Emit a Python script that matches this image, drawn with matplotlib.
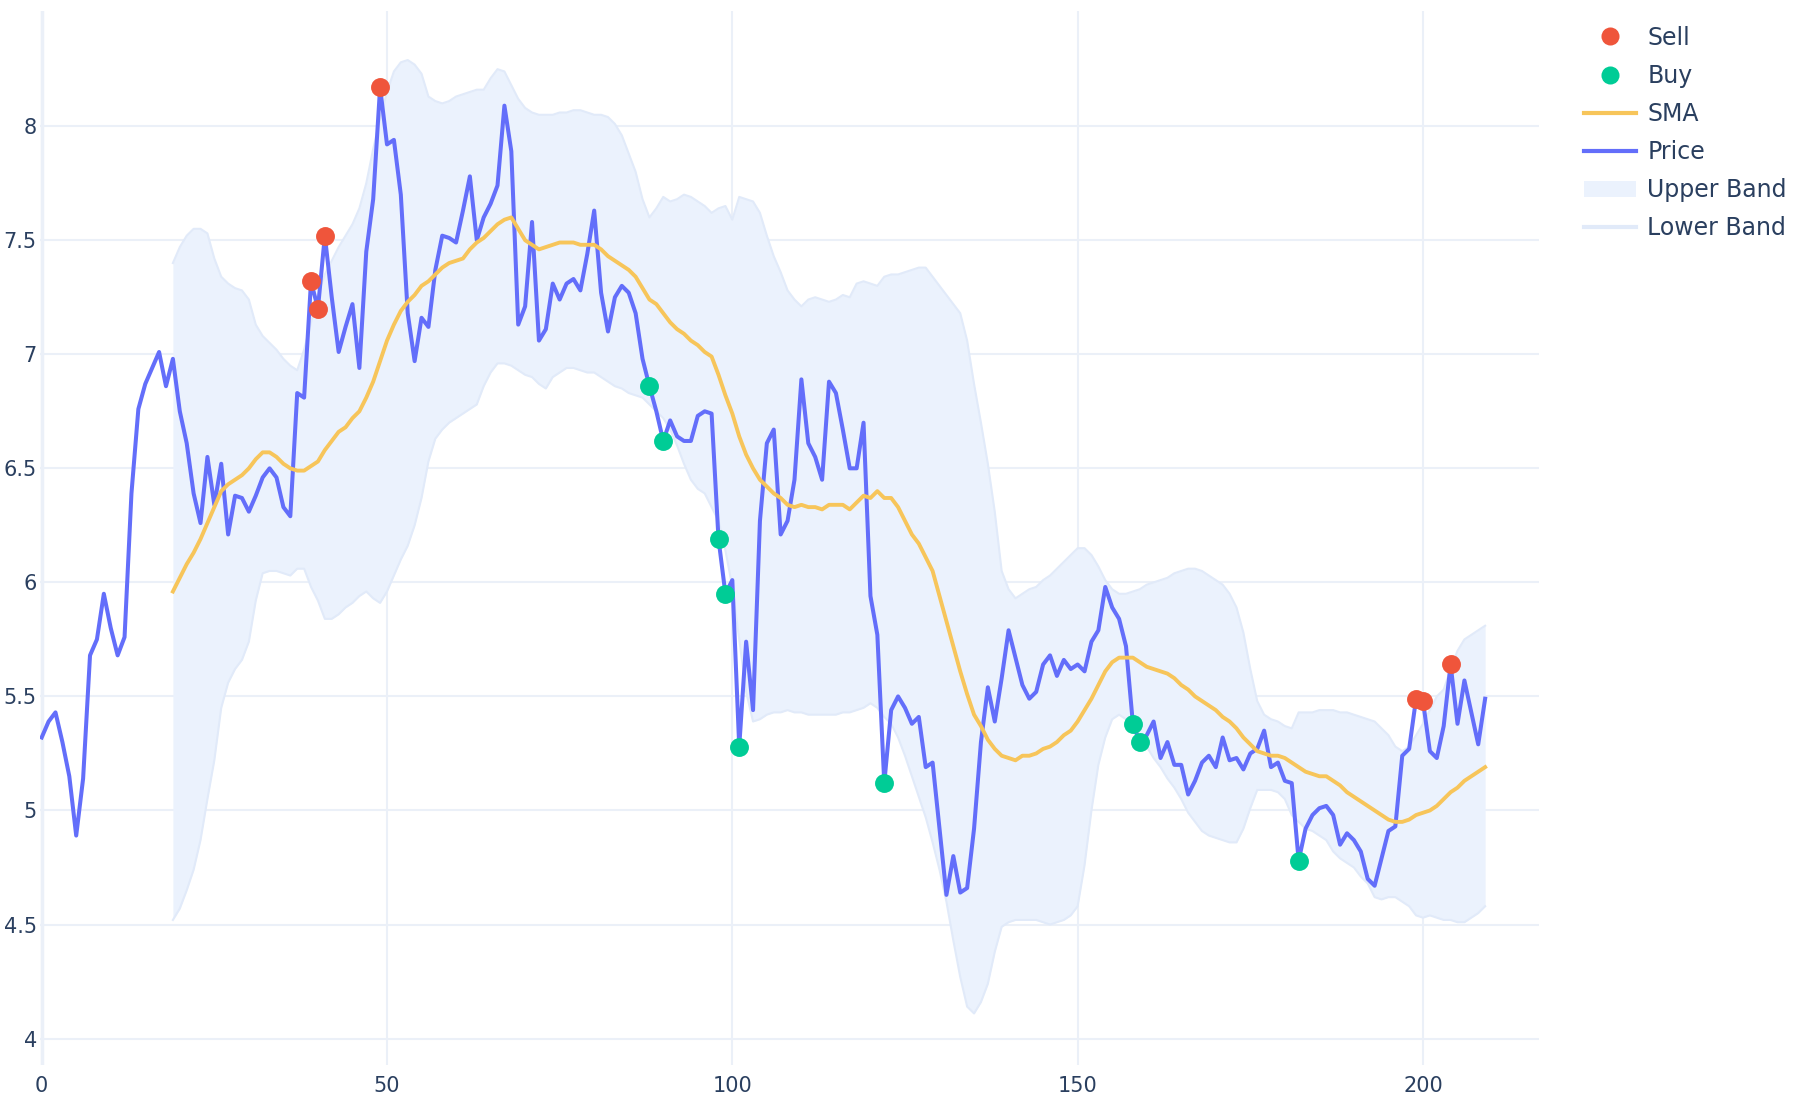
import matplotlib
matplotlib.use("Agg")
import matplotlib.pyplot as plt
from matplotlib.lines import Line2D
from matplotlib.patches import Patch
import numpy as np

# price series, one value per step (0..209)
price = [
    5.32, 5.39, 5.43, 5.30, 5.15, 4.89, 5.14, 5.68, 5.75, 5.95,
    5.80, 5.68, 5.76, 6.39, 6.76, 6.87, 6.94, 7.01, 6.86, 6.98,
    6.75, 6.61, 6.39, 6.26, 6.55, 6.34, 6.52, 6.21, 6.38, 6.37,
    6.31, 6.38, 6.46, 6.50, 6.46, 6.33, 6.29, 6.83, 6.81, 7.32,
    7.20, 7.52, 7.25, 7.01, 7.12, 7.22, 6.94, 7.45, 7.68, 8.17,
    7.92, 7.94, 7.70, 7.18, 6.97, 7.16, 7.12, 7.37, 7.52, 7.51,
    7.49, 7.63, 7.78, 7.50, 7.60, 7.66, 7.74, 8.09, 7.89, 7.13,
    7.21, 7.58, 7.06, 7.11, 7.31, 7.24, 7.31, 7.33, 7.28, 7.44,
    7.63, 7.27, 7.10, 7.25, 7.30, 7.27, 7.18, 6.98, 6.86, 6.75,
    6.62, 6.71, 6.64, 6.62, 6.62, 6.73, 6.75, 6.74, 6.19, 5.95,
    6.01, 5.28, 5.74, 5.44, 6.27, 6.61, 6.67, 6.21, 6.27, 6.45,
    6.89, 6.61, 6.55, 6.45, 6.88, 6.83, 6.67, 6.50, 6.50, 6.70,
    5.94, 5.77, 5.12, 5.44, 5.50, 5.45, 5.38, 5.41, 5.19, 5.21,
    4.92, 4.63, 4.80, 4.64, 4.66, 4.92, 5.30, 5.54, 5.39, 5.58,
    5.79, 5.67, 5.55, 5.49, 5.52, 5.64, 5.68, 5.59, 5.66, 5.62,
    5.64, 5.61, 5.74, 5.79, 5.98, 5.89, 5.84, 5.72, 5.38, 5.30,
    5.33, 5.39, 5.23, 5.30, 5.20, 5.20, 5.07, 5.13, 5.21, 5.24,
    5.19, 5.32, 5.22, 5.23, 5.18, 5.25, 5.27, 5.35, 5.19, 5.21,
    5.13, 5.12, 4.78, 4.92, 4.98, 5.01, 5.02, 4.98, 4.85, 4.90,
    4.87, 4.82, 4.70, 4.67, 4.79, 4.91, 4.93, 5.24, 5.27, 5.49,
    5.48, 5.26, 5.23, 5.37, 5.64, 5.38, 5.57, 5.43, 5.29, 5.49,
]

# moving average and bands start at step 19
band_start = 19
sma = [
    5.96, 6.02, 6.08, 6.13, 6.19, 6.26, 6.33, 6.40, 6.43, 6.45,
    6.47, 6.50, 6.54, 6.57, 6.57, 6.55, 6.52, 6.50, 6.49, 6.49,
    6.51, 6.53, 6.58, 6.62, 6.66, 6.68, 6.72, 6.75, 6.81, 6.88,
    6.97, 7.06, 7.13, 7.19, 7.23, 7.26, 7.30, 7.32, 7.35, 7.38,
    7.40, 7.41, 7.42, 7.46, 7.49, 7.51, 7.54, 7.57, 7.59, 7.60,
    7.55, 7.50, 7.48, 7.46, 7.47, 7.48, 7.49, 7.49, 7.49, 7.48,
    7.48, 7.48, 7.46, 7.43, 7.41, 7.39, 7.37, 7.34, 7.29, 7.24,
    7.22, 7.18, 7.14, 7.11, 7.09, 7.06, 7.04, 7.01, 6.99, 6.91,
    6.82, 6.74, 6.64, 6.56, 6.50, 6.45, 6.42, 6.39, 6.37, 6.34,
    6.33, 6.34, 6.33, 6.33, 6.32, 6.34, 6.34, 6.34, 6.32, 6.35,
    6.38, 6.37, 6.40, 6.37, 6.37, 6.33, 6.27, 6.21, 6.17, 6.11,
    6.05, 5.94, 5.83, 5.72, 5.61, 5.51, 5.42, 5.37, 5.31, 5.27,
    5.24, 5.23, 5.22, 5.24, 5.24, 5.25, 5.27, 5.28, 5.30, 5.33,
    5.35, 5.39, 5.44, 5.49, 5.55, 5.61, 5.65, 5.67, 5.67, 5.67,
    5.65, 5.63, 5.62, 5.61, 5.60, 5.58, 5.55, 5.53, 5.50, 5.48,
    5.46, 5.44, 5.41, 5.39, 5.36, 5.32, 5.29, 5.26, 5.25, 5.24,
    5.24, 5.23, 5.21, 5.19, 5.17, 5.16, 5.15, 5.15, 5.13, 5.11,
    5.08, 5.06, 5.04, 5.02, 5.00, 4.98, 4.96, 4.95, 4.95, 4.96,
    4.98, 4.99, 5.00, 5.02, 5.05, 5.08, 5.10, 5.13, 5.15, 5.17,
    5.19,
]
upper = [
    7.40, 7.47, 7.52, 7.55, 7.55, 7.53, 7.42, 7.34, 7.31, 7.29,
    7.28, 7.24, 7.13, 7.08, 7.05, 7.02, 6.98, 6.95, 6.93, 7.02,
    7.14, 7.26, 7.35, 7.41, 7.47, 7.52, 7.57, 7.64, 7.75, 7.90,
    8.03, 8.15, 8.24, 8.28, 8.29, 8.27, 8.23, 8.13, 8.11, 8.10,
    8.11, 8.13, 8.14, 8.15, 8.16, 8.16, 8.21, 8.25, 8.24, 8.18,
    8.12, 8.08, 8.06, 8.05, 8.05, 8.05, 8.06, 8.06, 8.07, 8.07,
    8.06, 8.05, 8.05, 8.04, 8.01, 7.96, 7.88, 7.80, 7.68, 7.60,
    7.64, 7.69, 7.67, 7.68, 7.70, 7.69, 7.67, 7.65, 7.62, 7.64,
    7.65, 7.59, 7.69, 7.68, 7.67, 7.62, 7.52, 7.43, 7.36, 7.28,
    7.24, 7.21, 7.24, 7.25, 7.24, 7.23, 7.24, 7.26, 7.25, 7.31,
    7.32, 7.31, 7.30, 7.34, 7.35, 7.35, 7.36, 7.37, 7.38, 7.38,
    7.34, 7.30, 7.26, 7.22, 7.18, 7.06, 6.87, 6.70, 6.52, 6.31,
    6.05, 5.97, 5.93, 5.95, 5.97, 5.98, 6.01, 6.03, 6.06, 6.09,
    6.12, 6.15, 6.15, 6.12, 6.07, 6.01, 5.97, 5.95, 5.95, 5.96,
    5.97, 5.99, 6.00, 6.01, 6.02, 6.04, 6.05, 6.06, 6.06, 6.05,
    6.03, 6.01, 5.99, 5.95, 5.89, 5.78, 5.62, 5.48, 5.42, 5.40,
    5.39, 5.37, 5.36, 5.43, 5.43, 5.43, 5.44, 5.44, 5.44, 5.43,
    5.43, 5.42, 5.41, 5.40, 5.39, 5.36, 5.33, 5.28, 5.26, 5.28,
    5.33, 5.38, 5.44, 5.50, 5.53, 5.62, 5.70, 5.75, 5.77, 5.79,
    5.81,
]
lower = [
    4.52, 4.57, 4.65, 4.74, 4.87, 5.05, 5.22, 5.45, 5.56, 5.62,
    5.66, 5.74, 5.92, 6.04, 6.05, 6.05, 6.04, 6.03, 6.06, 6.06,
    5.98, 5.92, 5.84, 5.84, 5.86, 5.89, 5.91, 5.94, 5.96, 5.93,
    5.91, 5.96, 6.03, 6.10, 6.16, 6.25, 6.37, 6.53, 6.63, 6.67,
    6.70, 6.72, 6.74, 6.76, 6.78, 6.86, 6.92, 6.96, 6.96, 6.95,
    6.93, 6.91, 6.90, 6.87, 6.85, 6.90, 6.92, 6.94, 6.94, 6.93,
    6.92, 6.92, 6.90, 6.88, 6.86, 6.85, 6.83, 6.82, 6.81, 6.78,
    6.75, 6.72, 6.67, 6.60, 6.52, 6.45, 6.41, 6.39, 6.33, 6.27,
    6.14, 5.98, 5.75, 5.52, 5.39, 5.40, 5.42, 5.43, 5.43, 5.44,
    5.43, 5.43, 5.42, 5.42, 5.42, 5.42, 5.42, 5.43, 5.43, 5.44,
    5.45, 5.47, 5.45, 5.41, 5.38, 5.32, 5.24, 5.15, 5.06, 4.97,
    4.86, 4.74, 4.60, 4.43, 4.27, 4.14, 4.11, 4.16, 4.24, 4.38,
    4.49, 4.51, 4.52, 4.52, 4.52, 4.52, 4.51, 4.50, 4.51, 4.52,
    4.54, 4.58, 4.76, 5.00, 5.20, 5.32, 5.40, 5.42, 5.40, 5.35,
    5.31, 5.28, 5.23, 5.19, 5.14, 5.10, 5.05, 4.99, 4.95, 4.91,
    4.89, 4.88, 4.87, 4.86, 4.86, 4.92, 5.01, 5.09, 5.09, 5.09,
    5.08, 5.05, 4.98, 4.95, 4.92, 4.91, 4.89, 4.87, 4.82, 4.79,
    4.77, 4.75, 4.71, 4.68, 4.62, 4.61, 4.62, 4.62, 4.60, 4.58,
    4.54, 4.53, 4.54, 4.53, 4.52, 4.52, 4.51, 4.51, 4.53, 4.55,
    4.58,
]

sell_idx = [39, 40, 41, 49, 199, 200, 204]
buy_idx = [88, 90, 98, 99, 101, 122, 158, 159, 182]

yticks = [4, 4.5, 5, 5.5, 6, 6.5, 7, 7.5, 8]
xticks = [0, 50, 100, 150, 200]

c_price = "#636EFA"
c_sma = "#F7C55A"
c_sell = "#EF553B"
c_buy = "#00CC96"
c_band = "#EBF2FD"
c_band_line = "#E1EAF9"
c_grid = "#EBF0F8"
c_text = "#2A3F5F"

price = np.array(price)
x = np.arange(len(price))
xb = np.arange(band_start, band_start + len(sma))

fig = plt.figure(figsize=(18, 11), dpi=100)
ax = fig.add_axes([0.022, 0.032, 0.833, 0.958])

ax.fill_between(xb, lower, upper, color=c_band, lw=0, zorder=1)
ax.plot(xb, upper, color=c_band_line, lw=1.5, zorder=2)
ax.plot(xb, lower, color=c_band_line, lw=1.5, zorder=2)
ax.plot(x, price, color=c_price, lw=2.9, zorder=3)
ax.plot(xb, sma, color=c_sma, lw=2.8, zorder=4)
ax.scatter(sell_idx, price[sell_idx], s=185, color=c_sell, lw=0, zorder=5)
ax.scatter(buy_idx, price[buy_idx], s=185, color=c_buy, lw=0, zorder=5)

ax.set_xlim(-0.3, 216.8)
ax.set_ylim(3.885, 8.505)
ax.set_xticks(xticks)
ax.set_yticks(yticks)
ax.set_yticklabels([f"{v:g}" for v in yticks])
ax.grid(True, color=c_grid, lw=1.5)
ax.set_axisbelow(True)
ax.axvline(0, color=c_grid, lw=2.5, zorder=0)
for s in ax.spines.values():
    s.set_visible(False)
ax.tick_params(axis="y", length=0, labelsize=15, colors=c_text, pad=2)
ax.tick_params(axis="x", length=0, labelsize=15, colors=c_text, pad=8)

handles = [
    Line2D([], [], ls="", marker="o", ms=13, color=c_sell, mec="none"),
    Line2D([], [], ls="", marker="o", ms=13, color=c_buy, mec="none"),
    Line2D([], [], color=c_sma, lw=3),
    Line2D([], [], color=c_price, lw=3),
    Patch(facecolor=c_band, edgecolor="none"),
    Line2D([], [], color=c_band_line, lw=3),
]
labels = ["Sell", "Buy", "SMA", "Price", "Upper Band", "Lower Band"]
fig.legend(handles, labels, loc="upper left", bbox_to_anchor=(0.868, 0.996),
           frameon=False, fontsize=17, labelcolor=c_text, handlelength=2.2,
           handletextpad=0.5, labelspacing=0.6)

fig.savefig("out.png", dpi=100, facecolor="white")
